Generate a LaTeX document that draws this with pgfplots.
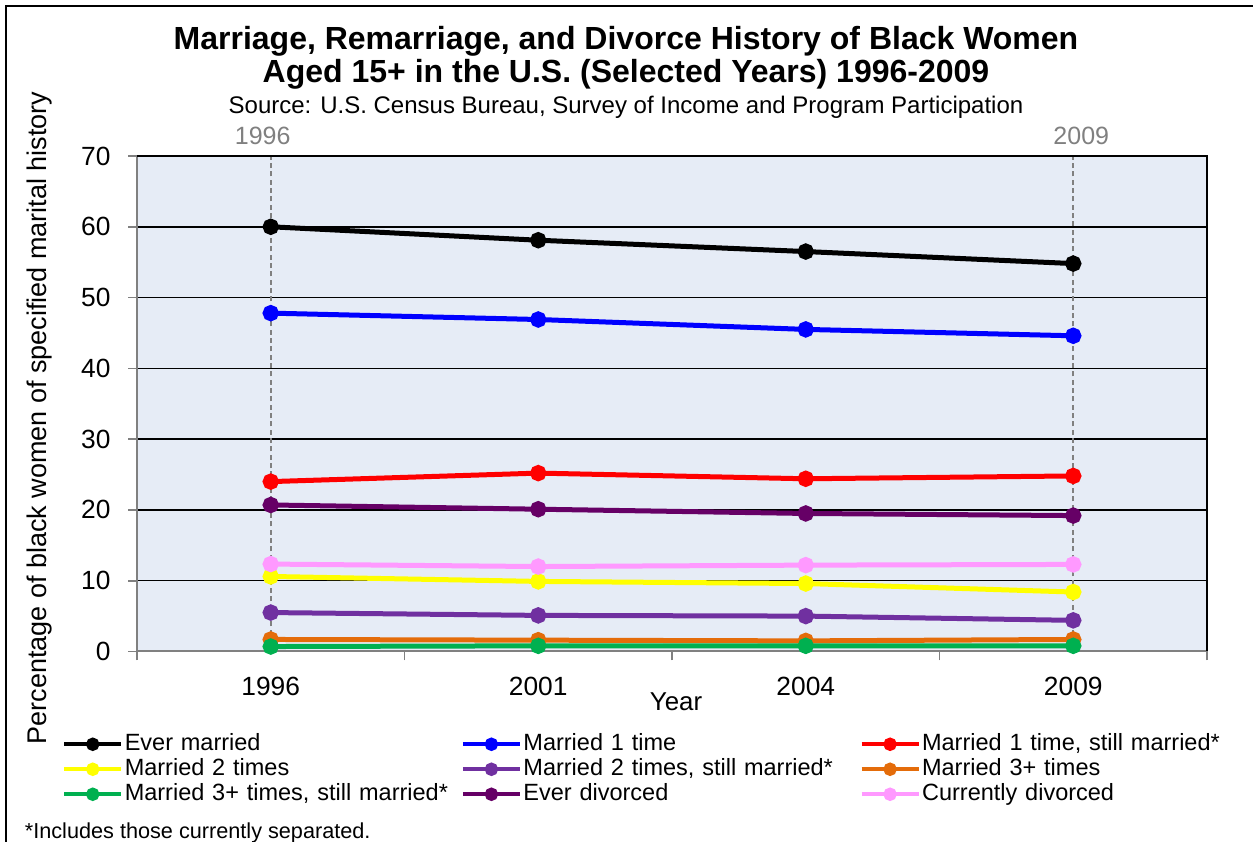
\documentclass[border=0pt]{standalone}
\usepackage{pgfplots}
\pgfplotsset{compat=1.18}
\usepackage{fontspec}
\setmainfont{Liberation Sans}
\definecolor{plotbg}{RGB}{230,236,246}
\definecolor{cblue}{RGB}{0,0,255}
\definecolor{cred}{RGB}{255,0,0}
\definecolor{cyellow}{RGB}{255,255,0}
\definecolor{cpurple}{RGB}{112,48,160}
\definecolor{corange}{RGB}{228,108,10}
\definecolor{cgreen}{RGB}{0,176,80}
\definecolor{cdpurple}{RGB}{102,0,102}
\definecolor{cpink}{RGB}{255,153,255}
\definecolor{cgray}{RGB}{128,128,128}
\begin{document}
\begin{tikzpicture}
\path[use as bounding box] (0pt,0pt) rectangle (751.8pt,505.2pt);
\begin{scope}[x=0.6pt,y=0.6pt]
\clip (0,0) rectangle (1253,842);
\draw[black,line width=1.2pt] (6,-10) -- (6,836) -- (1300,836);
\node[font=\fontsize{19.2}{23}\selectfont\bfseries] at (626,801) {Marriage, Remarriage, and Divorce History of Black Women};
\node[font=\fontsize{19.2}{23}\selectfont\bfseries] at (626,768) {Aged 15+ in the U.S. (Selected Years) 1996-2009};
\node[font=\fontsize{14.4}{17}\selectfont] at (626,735) {Source: U.S. Census Bureau, Survey of Income and Program Participation};
\node[font=\fontsize{16.2}{19}\selectfont, rotate=90] at (40,424) {Percentage of black women of specified marital history};
\node[font=\fontsize{15.5}{18}\selectfont] at (676,140) {Year};
\node[font=\fontsize{13}{15}\selectfont, anchor=base west] at (19,3) {*Includes those currently separated.};
\end{scope}
\begin{axis}[
  at={(82.2pt,114.3pt)}, anchor=south west,
  width=642pt, height=297.3pt, scale only axis,
  xmin=-0.5, xmax=3.5, ymin=0, ymax=70,
  clip=false,
  axis background/.style={fill=plotbg},
  axis line style={draw=none},
  xtick={-0.5,0.5,1.5,2.5,3.5},
  xticklabels={1996,2001,2004,2009},
  x tick label as interval,
  ytick={0,10,...,70},
  tick pos=left,
  tick align=outside,
  major tick length=5.4pt,
  tick style={cgray, line width=1pt},
  ymajorgrids,
  grid style={black, line width=0.9pt},
  /pgf/number format/assume math mode=true,
  ticklabel style={font=\fontsize{15.8}{18}\selectfont},
  xticklabel style={yshift=-6.2pt},
  yticklabel style={xshift=-7pt},
  every axis plot/.append style={line width=3pt, mark=*, mark size=3.4pt, mark options={solid}},
  legend columns=3,
  legend cell align=left,
  legend style={at={(-0.070,-0.162)}, anchor=north west, draw=none, fill=none,
    inner sep=0pt, outer sep=0pt, row sep=0pt, column sep=0pt,
    font=\fontsize{14.1}{16}\selectfont,
    nodes={text width=200.8pt, text height=10.5pt, text depth=3pt, inner xsep=0.8pt, inner ysep=0.75pt}},
  legend image code/.code={\draw[mark repeat=2,mark phase=2,line width=2.6pt,mark size=2.7pt,#1] plot coordinates {(0pt,0pt) (17.1pt,0pt) (34.2pt,0pt)};},
]
\addplot[black] coordinates {(0,60.0) (1,58.1) (2,56.5) (3,54.8)};
\addlegendentry{Ever married}
\addplot[cblue] coordinates {(0,47.8) (1,46.9) (2,45.5) (3,44.6)};
\addlegendentry{Married 1 time}
\addplot[cred] coordinates {(0,24.0) (1,25.2) (2,24.4) (3,24.8)};
\addlegendentry{Married 1 time, still married*}
\addplot[cyellow] coordinates {(0,10.6) (1,9.9) (2,9.6) (3,8.4)};
\addlegendentry{Married 2 times}
\addplot[cpurple] coordinates {(0,5.5) (1,5.1) (2,5.0) (3,4.4)};
\addlegendentry{Married 2 times, still married*}
\addplot[corange] coordinates {(0,1.7) (1,1.6) (2,1.5) (3,1.7)};
\addlegendentry{Married 3+ times}
\addplot[cgreen] coordinates {(0,0.7) (1,0.8) (2,0.8) (3,0.8)};
\addlegendentry{Married 3+ times, still married*}
\addplot[cdpurple] coordinates {(0,20.7) (1,20.1) (2,19.5) (3,19.2)};
\addlegendentry{Ever divorced}
\addplot[cpink] coordinates {(0,12.35) (1,12.0) (2,12.2) (3,12.3)};
\addlegendentry{Currently divorced}
\addplot[cgray, dash pattern=on 3pt off 2pt, line width=1.2pt, mark=none, forget plot] coordinates {(0,0) (0,70)};
\addplot[cgray, dash pattern=on 3pt off 2pt, line width=1.2pt, mark=none, forget plot] coordinates {(3,0) (3,70)};
\draw[cgray, line width=1.2pt] (rel axis cs:0,1) -- (rel axis cs:0,0) -- (rel axis cs:1,0);
\draw[black, line width=1.2pt] (rel axis cs:0,1) -- (rel axis cs:1,1) -- (rel axis cs:1,0);
\node[cgray, font=\fontsize{15}{18}\selectfont, anchor=south] at (axis cs:-0.03,70.8) {1996};
\node[cgray, font=\fontsize{15}{18}\selectfont, anchor=south] at (axis cs:3.03,70.8) {2009};
\end{axis}
\end{tikzpicture}
\end{document}
